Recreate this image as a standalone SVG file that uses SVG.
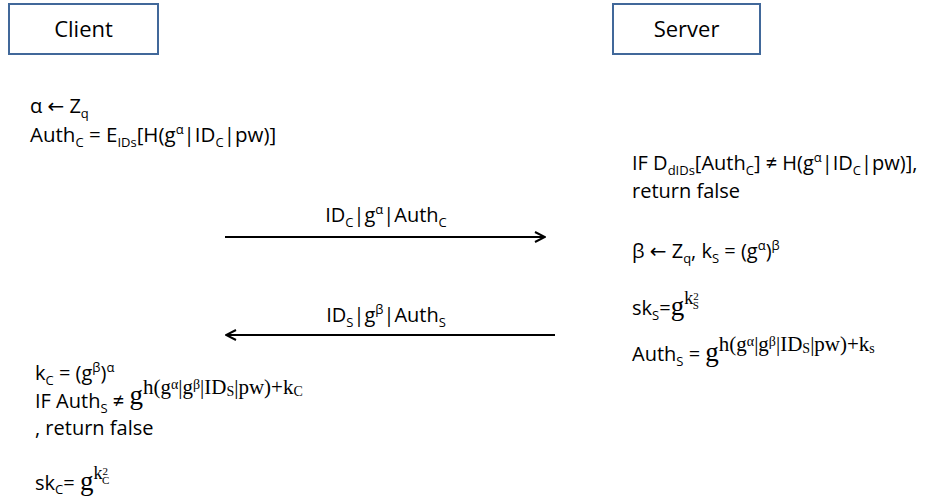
<svg xmlns="http://www.w3.org/2000/svg" width="933" height="498" viewBox="0 0 933 498">
<defs>
<style>
.box{fill:#fff;stroke:#41689A;stroke-width:2}
.t{font-family:"Open Sans","Liberation Sans",sans-serif;font-size:20px;fill:#000}
.lbl{font-family:"Open Sans","Liberation Sans",sans-serif;font-size:22px;fill:#000}
.m{font-family:"Liberation Serif","DejaVu Serif",serif}
.ar{font-family:"DejaVu Sans",sans-serif}
.s{font-size:13px}
.line{stroke:#000;stroke-width:2;fill:none}
</style>
<marker id="ah" viewBox="0 0 12 12" refX="11" refY="6" markerWidth="12" markerHeight="12" markerUnits="userSpaceOnUse" orient="auto">
<path d="M1,1 L11,6 L1,11" fill="none" stroke="#000" stroke-width="2"/>
</marker>
</defs>
<rect width="933" height="498" fill="#fff"/>
<g id="client">
<rect class="box" x="9" y="4" width="149" height="50"/>
<text class="lbl" x="83.5" y="37" text-anchor="middle">Client</text>
</g>
<g id="server">
<rect class="box" x="613" y="4" width="147" height="50"/>
<text class="lbl" x="686.5" y="37" text-anchor="middle">Server</text>
</g>
<g id="client-init">
<text class="t" x="30" y="113">α <tspan class="ar">←</tspan> Z<tspan class="s" dy="5">q</tspan></text>
<text class="t" x="30" y="142" style="font-size:20.5px">Auth<tspan class="s" dy="5">C</tspan><tspan dy="-5"> = E</tspan><tspan class="s" dy="5">IDs</tspan><tspan dy="-5">[H(g</tspan><tspan class="s" dy="-8">α</tspan><tspan dy="8">|ID</tspan><tspan class="s" dy="5">C</tspan><tspan dy="-5">|pw)]</tspan></text>
</g>
<g id="server-steps">
<text class="t" x="632" y="170">IF D<tspan class="s" dy="5">dIDs</tspan><tspan dy="-5">[Auth</tspan><tspan class="s" dy="5">C</tspan><tspan dy="-5">] ≠ H(g</tspan><tspan class="s" dy="-8">α</tspan><tspan dy="8">|ID</tspan><tspan class="s" dy="5">C</tspan><tspan dy="-5">|pw)],</tspan></text>
<text class="t" x="632" y="198">return false</text>
<text class="t" x="632" y="258">β <tspan class="ar">←</tspan> Z<tspan class="s" dy="5">q</tspan><tspan dy="-5">, k</tspan><tspan class="s" dy="5">S</tspan><tspan dy="-5"> = (g</tspan><tspan class="s" dy="-8">α</tspan><tspan dy="8">)</tspan><tspan class="s" dy="-8">β</tspan></text>
<text class="t" x="632" y="315">sk<tspan class="s" dy="5">S</tspan><tspan dy="-5">=</tspan><tspan class="m" font-size="27">g</tspan><tspan class="m" font-size="18" dy="-11">k</tspan><tspan class="m" font-size="11" dy="-4">2</tspan><tspan class="m" font-size="11" dx="-6" dy="9">S</tspan></text>
<text class="t" x="632" y="361">Auth<tspan class="s" dy="5">S</tspan><tspan dy="-5"> = </tspan><tspan class="m" font-size="27">g</tspan><tspan class="m" font-size="21" dy="-10">h(g</tspan><tspan class="m" font-size="14" dy="-5">α</tspan><tspan class="m" font-size="21" dy="5">|g</tspan><tspan class="m" font-size="14" dy="-5">β</tspan><tspan class="m" font-size="21" dy="5">|ID</tspan><tspan class="m" font-size="14" dy="2">S</tspan><tspan class="m" font-size="21" dy="-2">|pw)+k</tspan><tspan class="m" font-size="14" dy="2">s</tspan></text>
</g>
<g id="client-final">
<text class="t" x="35" y="380">k<tspan class="s" dy="5">C</tspan><tspan dy="-5"> = (g</tspan><tspan class="s" dy="-8">β</tspan><tspan dy="8">)</tspan><tspan class="s" dy="-8">α</tspan></text>
<text class="t" x="35" y="408">IF Auth<tspan class="s" dy="5">S</tspan><tspan dy="-5"> ≠  </tspan><tspan class="m" font-size="27" dy="-4">g</tspan><tspan class="m" font-size="21" dy="-10">h(g</tspan><tspan class="m" font-size="14" dy="-5">α</tspan><tspan class="m" font-size="21" dy="5">|g</tspan><tspan class="m" font-size="14" dy="-5">β</tspan><tspan class="m" font-size="21" dy="5">|ID</tspan><tspan class="m" font-size="14" dy="2">S</tspan><tspan class="m" font-size="21" dy="-2">|pw)+k</tspan><tspan class="m" font-size="14" dy="2">C</tspan></text>
<text class="t" x="35" y="435">, return false</text>
<text class="t" x="35" y="490">sk<tspan class="s" dy="4">C</tspan><tspan dy="-4">= </tspan><tspan class="m" font-size="27">g</tspan><tspan class="m" font-size="18" dy="-11">k</tspan><tspan class="m" font-size="11" dy="-4">2</tspan><tspan class="m" font-size="11" dx="-6" dy="9">C</tspan></text>
</g>
<g id="connectors">
<line class="line" x1="225" y1="237" x2="545" y2="237" marker-end="url(#ah)"/>
<line class="line" x1="555" y1="335" x2="226" y2="335" marker-end="url(#ah)"/>
<text class="t" x="386" y="222" text-anchor="middle">ID<tspan class="s" dy="5">C</tspan><tspan dy="-5">|g</tspan><tspan class="s" dy="-8">α</tspan><tspan dy="8">|Auth</tspan><tspan class="s" dy="5">C</tspan></text>
<text class="t" x="386" y="322" text-anchor="middle">ID<tspan class="s" dy="5">S</tspan><tspan dy="-5">|g</tspan><tspan class="s" dy="-8">β</tspan><tspan dy="8">|Auth</tspan><tspan class="s" dy="5">S</tspan></text>
</g>
</svg>
